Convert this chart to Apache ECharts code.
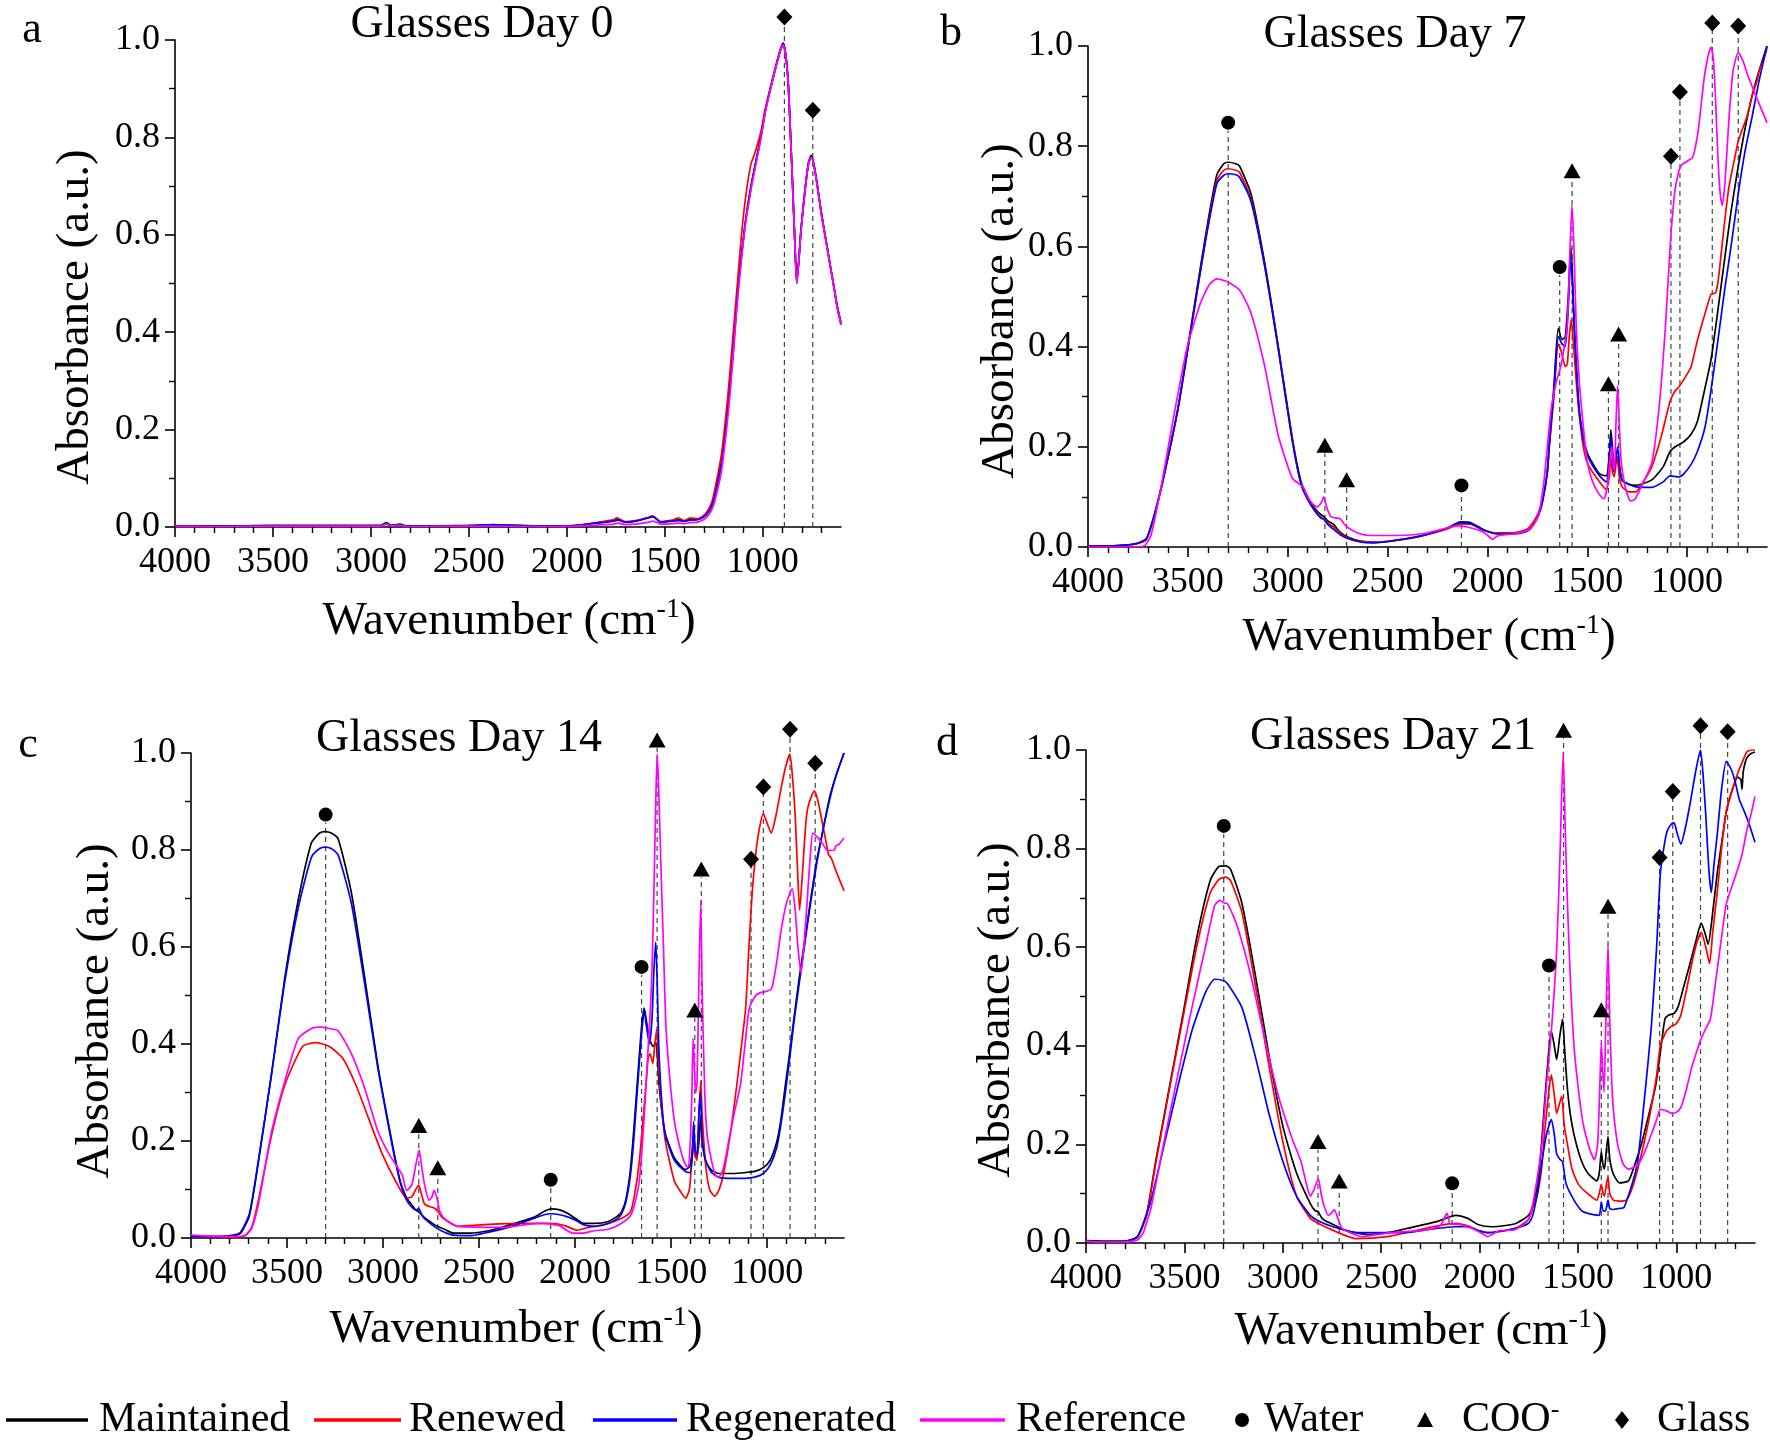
<!DOCTYPE html>
<html><head><meta charset="utf-8">
<script src="https://cdn.jsdelivr.net/npm/echarts@6/dist/echarts.min.js"></script>
<style>html,body{margin:0;padding:0;background:#fff}#chart{width:1770px;height:1449px}</style>
</head><body><div id="chart"></div>
<script>
// ---------------- DATA ----------------
const seriesNames = ['Maintained', 'Renewed', 'Regenerated', 'Reference'];
const panelTitles = ['Glasses Day 0', 'Glasses Day 7', 'Glasses Day 14', 'Glasses Day 21'];
const panelLetters = ['a', 'b', 'c', 'd'];
const xTickLabels = [4000, 3500, 3000, 2500, 2000, 1500, 1000];
const legendMarkers = ['Water', 'COO', 'Glass'];

// Panel a (Day 0)
const a_maintained = [[4000,0.002],[3800,0.002],[3500,0.003],[3200,0.003],[2950,0.003],[2922,0.009],[2895,0.003],[2852,0.006],[2820,0.002],[2500,0.003],[2380,0.004],[2100,0.002],[1960,0.003],[1850,0.008],[1760,0.013],[1740,0.016],[1700,0.01],[1650,0.012],[1580,0.02],[1560,0.022],[1520,0.01],[1460,0.013],[1430,0.015],[1400,0.012],[1370,0.016],[1330,0.016],[1290,0.026],[1260,0.045],[1240,0.075],[1210,0.134],[1190,0.2],[1173,0.263],[1150,0.37],[1129,0.478],[1108,0.56],[1086,0.634],[1060,0.7],[1042,0.737],[1010,0.8],[985,0.858],[955,0.91],[927,0.955],[908,0.982],[895,0.994],[882,0.97],[869,0.91],[857,0.8],[846,0.694],[835,0.58],[826,0.504],[815,0.55],[805,0.608],[790,0.67],[776,0.72],[765,0.75],[752,0.763],[740,0.748],[724,0.711],[700,0.645],[681,0.6],[660,0.55],[637,0.496],[620,0.455],[600,0.418]];
const a_renewed = [[4000,0.002],[3800,0.002],[3500,0.003],[3200,0.003],[2950,0.003],[2922,0.006],[2895,0.003],[2852,0.005],[2820,0.002],[2500,0.003],[2100,0.002],[1960,0.003],[1850,0.009],[1760,0.015],[1745,0.019],[1700,0.011],[1650,0.013],[1580,0.02],[1565,0.023],[1520,0.011],[1460,0.014],[1430,0.019],[1400,0.013],[1370,0.019],[1330,0.017],[1290,0.028],[1260,0.05],[1240,0.085],[1210,0.15],[1190,0.22],[1173,0.29],[1150,0.4],[1129,0.5],[1108,0.6],[1086,0.68],[1060,0.745],[1042,0.765],[1010,0.81],[985,0.862],[955,0.912],[927,0.956],[908,0.982],[895,0.99],[882,0.968],[869,0.905],[857,0.795],[846,0.69],[835,0.578],[826,0.502],[815,0.548],[805,0.605],[790,0.668],[776,0.718],[765,0.748],[752,0.76],[740,0.745],[724,0.708],[700,0.642],[681,0.598],[660,0.548],[637,0.495],[620,0.456],[600,0.42]];
const a_regenerated = [[4000,0.001],[3800,0.002],[3500,0.003],[3200,0.003],[2950,0.003],[2922,0.007],[2895,0.003],[2852,0.005],[2820,0.002],[2500,0.003],[2380,0.005],[2100,0.002],[1960,0.003],[1850,0.008],[1760,0.012],[1740,0.014],[1700,0.01],[1650,0.012],[1580,0.019],[1560,0.021],[1520,0.01],[1460,0.012],[1430,0.013],[1400,0.012],[1370,0.014],[1330,0.015],[1290,0.024],[1260,0.042],[1240,0.07],[1210,0.128],[1190,0.19],[1173,0.255],[1150,0.36],[1129,0.47],[1108,0.555],[1086,0.63],[1060,0.695],[1042,0.733],[1010,0.797],[985,0.856],[955,0.908],[927,0.953],[908,0.98],[895,0.992],[882,0.968],[869,0.908],[857,0.798],[846,0.692],[835,0.578],[826,0.5],[815,0.548],[805,0.606],[790,0.668],[776,0.718],[765,0.748],[752,0.76],[740,0.746],[724,0.709],[700,0.643],[681,0.598],[660,0.548],[637,0.494],[620,0.452],[600,0.415]];
const a_reference = [[4000,0.001],[3800,0.001],[3500,0.002],[3200,0.002],[2950,0.002],[2922,0.006],[2895,0.002],[2852,0.004],[2820,0.001],[2500,0.002],[2100,0.001],[1960,0.002],[1850,0.004],[1760,0.006],[1740,0.008],[1700,0.005],[1650,0.006],[1580,0.01],[1560,0.012],[1520,0.006],[1460,0.007],[1430,0.008],[1400,0.007],[1370,0.009],[1330,0.01],[1290,0.018],[1260,0.035],[1240,0.06],[1210,0.115],[1190,0.18],[1173,0.245],[1150,0.355],[1129,0.465],[1108,0.55],[1086,0.628],[1060,0.692],[1042,0.73],[1010,0.795],[985,0.855],[955,0.907],[927,0.952],[908,0.98],[895,0.99],[882,0.967],[869,0.907],[857,0.797],[846,0.69],[835,0.577],[826,0.5],[815,0.547],[805,0.605],[790,0.667],[776,0.717],[765,0.747],[752,0.759],[740,0.745],[724,0.708],[700,0.642],[681,0.597],[660,0.547],[637,0.494],[620,0.452],[600,0.415]];
const a_water = [];
const a_coo = [];
const a_glass = [[889,1.047],[744,0.856]];

// Panel b (Day 7)
const b_maintained = [[4000,0.002],[3850,0.003],[3760,0.006],[3708,0.015],[3663,0.07],[3617,0.146],[3548,0.28],[3480,0.45],[3412,0.62],[3355,0.743],[3320,0.765],[3298,0.768],[3260,0.765],[3241,0.76],[3184,0.705],[3115,0.567],[3047,0.4],[2978,0.22],[2933,0.13],[2900,0.1],[2864,0.077],[2835,0.065],[2819,0.061],[2800,0.052],[2770,0.045],[2739,0.03],[2700,0.02],[2636,0.012],[2545,0.009],[2420,0.015],[2317,0.023],[2200,0.038],[2135,0.05],[2080,0.048],[2021,0.035],[1952,0.027],[1861,0.027],[1800,0.033],[1770,0.046],[1745,0.065],[1724,0.092],[1700,0.15],[1690,0.207],[1667,0.32],[1645,0.437],[1626,0.414],[1610,0.42],[1595,0.5],[1583,0.598],[1575,0.55],[1565,0.437],[1542,0.28],[1520,0.22],[1496,0.184],[1439,0.146],[1405,0.142],[1390,0.18],[1382,0.234],[1374,0.2],[1367,0.16],[1355,0.17],[1348,0.18],[1340,0.16],[1325,0.134],[1290,0.125],[1257,0.123],[1177,0.134],[1120,0.16],[1086,0.19],[1060,0.2],[1017,0.21],[980,0.225],[949,0.25],[920,0.3],[880,0.375],[850,0.46],[812,0.575],[780,0.67],[744,0.76],[710,0.835],[675,0.9],[640,0.95],[600,1.0]];
const b_renewed = [[4000,0.002],[3850,0.003],[3760,0.006],[3708,0.015],[3663,0.07],[3617,0.146],[3548,0.278],[3480,0.445],[3412,0.612],[3355,0.732],[3320,0.752],[3298,0.755],[3260,0.752],[3241,0.748],[3184,0.695],[3115,0.56],[3047,0.395],[2978,0.215],[2933,0.125],[2900,0.095],[2864,0.072],[2835,0.06],[2819,0.056],[2800,0.048],[2770,0.04],[2739,0.028],[2700,0.018],[2636,0.011],[2545,0.01],[2420,0.016],[2317,0.024],[2200,0.036],[2135,0.046],[2080,0.045],[2021,0.034],[1952,0.028],[1861,0.029],[1800,0.036],[1770,0.05],[1745,0.068],[1724,0.095],[1700,0.15],[1690,0.2],[1667,0.3],[1645,0.405],[1630,0.39],[1610,0.36],[1600,0.365],[1590,0.42],[1580,0.455],[1570,0.41],[1555,0.33],[1542,0.27],[1520,0.2],[1496,0.165],[1439,0.13],[1405,0.115],[1390,0.14],[1382,0.18],[1374,0.15],[1365,0.14],[1355,0.17],[1350,0.18],[1340,0.14],[1325,0.12],[1290,0.11],[1257,0.11],[1220,0.13],[1177,0.16],[1130,0.22],[1086,0.29],[1063,0.31],[1040,0.32],[1000,0.345],[980,0.36],[950,0.41],[915,0.46],[885,0.5],[875,0.506],[860,0.506],[845,0.53],[812,0.65],[790,0.72],[760,0.78],[744,0.81],[700,0.86],[675,0.9],[650,0.93],[640,0.95],[620,0.97],[600,0.995]];
const b_regenerated = [[4000,0.002],[3850,0.003],[3760,0.007],[3708,0.017],[3663,0.072],[3617,0.148],[3548,0.28],[3480,0.445],[3412,0.61],[3355,0.725],[3320,0.742],[3298,0.745],[3260,0.743],[3241,0.738],[3184,0.69],[3115,0.56],[3047,0.395],[2978,0.215],[2933,0.125],[2900,0.095],[2864,0.072],[2835,0.058],[2819,0.055],[2800,0.045],[2770,0.035],[2739,0.025],[2700,0.017],[2636,0.01],[2580,0.008],[2545,0.009],[2420,0.016],[2317,0.024],[2200,0.038],[2135,0.048],[2080,0.046],[2021,0.034],[1952,0.026],[1861,0.026],[1800,0.032],[1770,0.044],[1745,0.062],[1724,0.09],[1700,0.15],[1690,0.205],[1667,0.31],[1645,0.42],[1626,0.405],[1610,0.4],[1595,0.48],[1583,0.58],[1575,0.53],[1565,0.44],[1542,0.28],[1520,0.215],[1496,0.18],[1439,0.142],[1405,0.13],[1390,0.17],[1382,0.22],[1374,0.18],[1367,0.15],[1355,0.18],[1348,0.2],[1335,0.15],[1325,0.132],[1290,0.125],[1257,0.12],[1177,0.119],[1120,0.13],[1086,0.142],[1040,0.14],[1017,0.146],[980,0.165],[949,0.19],[910,0.24],[880,0.314],[850,0.4],[812,0.513],[780,0.6],[744,0.705],[710,0.79],[675,0.858],[640,0.93],[600,1.0]];
const b_reference = [[4000,0.0],[3800,0.0],[3720,0.002],[3685,0.023],[3640,0.107],[3571,0.26],[3503,0.4],[3434,0.49],[3390,0.525],[3355,0.535],[3320,0.532],[3298,0.529],[3241,0.513],[3184,0.467],[3115,0.36],[3047,0.222],[2978,0.138],[2940,0.125],[2921,0.119],[2900,0.1],[2880,0.088],[2853,0.08],[2830,0.09],[2819,0.1],[2805,0.08],[2785,0.061],[2760,0.058],[2739,0.057],[2715,0.045],[2695,0.038],[2650,0.028],[2590,0.023],[2450,0.023],[2317,0.027],[2200,0.038],[2158,0.042],[2100,0.04],[2021,0.03],[1990,0.02],[1975,0.015],[1950,0.022],[1861,0.027],[1790,0.035],[1747,0.061],[1720,0.12],[1700,0.2],[1679,0.28],[1655,0.33],[1633,0.36],[1615,0.4],[1600,0.444],[1590,0.55],[1577,0.682],[1567,0.6],[1555,0.437],[1540,0.33],[1519,0.237],[1500,0.17],[1473,0.13],[1440,0.105],[1416,0.096],[1400,0.12],[1385,0.18],[1378,0.2],[1371,0.17],[1364,0.153],[1356,0.25],[1348,0.322],[1340,0.25],[1330,0.17],[1310,0.12],[1290,0.095],[1280,0.092],[1260,0.096],[1230,0.12],[1177,0.168],[1140,0.28],[1109,0.437],[1085,0.6],[1063,0.705],[1045,0.745],[1029,0.762],[1000,0.77],[972,0.778],[945,0.83],[915,0.935],[895,0.98],[880,0.998],[868,0.97],[858,0.897],[845,0.77],[833,0.7],[824,0.682],[810,0.73],[790,0.858],[770,0.95],[744,0.987],[720,0.97],[698,0.943],[652,0.897],[600,0.847]];
const b_water = [[3298,0.847],[2130,0.123],[1638,0.559]];
const b_coo = [[2814,0.203],[2705,0.134],[1576,0.751],[1394,0.326],[1343,0.425]];
const b_glass = [[1081,0.78],[1036,0.908],[874,1.046],[744,1.04]];

// Panel c (Day 14)
const c_maintained = [[4000,0.004],[3850,0.003],[3780,0.005],[3742,0.01],[3696,0.046],[3649,0.157],[3580,0.34],[3511,0.538],[3442,0.696],[3373,0.815],[3330,0.835],[3303,0.838],[3270,0.835],[3234,0.823],[3165,0.712],[3096,0.538],[3027,0.355],[2957,0.205],[2911,0.117],[2880,0.085],[2854,0.07],[2830,0.058],[2814,0.054],[2795,0.046],[2784,0.042],[2727,0.026],[2680,0.018],[2634,0.01],[2542,0.01],[2450,0.015],[2381,0.022],[2300,0.032],[2219,0.042],[2160,0.055],[2127,0.06],[2080,0.058],[2035,0.05],[1990,0.038],[1954,0.03],[1900,0.03],[1827,0.034],[1780,0.045],[1758,0.054],[1735,0.08],[1712,0.141],[1695,0.22],[1677,0.316],[1654,0.435],[1640,0.474],[1630,0.45],[1613,0.41],[1593,0.395],[1579,0.403],[1571,0.37],[1563,0.316],[1545,0.25],[1529,0.213],[1483,0.165],[1425,0.141],[1402,0.149],[1390,0.18],[1383,0.213],[1375,0.18],[1366,0.165],[1355,0.2],[1346,0.252],[1338,0.2],[1320,0.157],[1290,0.14],[1250,0.133],[1180,0.133],[1112,0.135],[1060,0.138],[1020,0.145],[985,0.16],[951,0.197],[930,0.24],[905,0.316],[880,0.39],[859,0.458],[835,0.53],[812,0.593],[780,0.68],[743,0.776],[710,0.84],[674,0.91],[640,0.955],[600,1.0]];
const c_renewed = [[4000,0.004],[3850,0.002],[3760,0.002],[3719,0.005],[3684,0.022],[3649,0.078],[3580,0.213],[3511,0.316],[3419,0.395],[3350,0.403],[3280,0.395],[3211,0.371],[3142,0.316],[3073,0.244],[3004,0.173],[2934,0.117],[2877,0.082],[2850,0.085],[2830,0.1],[2814,0.109],[2800,0.09],[2784,0.07],[2760,0.065],[2734,0.062],[2715,0.055],[2692,0.042],[2611,0.024],[2450,0.028],[2265,0.03],[2127,0.03],[2050,0.025],[1989,0.016],[1950,0.02],[1827,0.03],[1760,0.04],[1712,0.054],[1690,0.09],[1666,0.157],[1645,0.25],[1631,0.316],[1620,0.37],[1610,0.38],[1595,0.36],[1585,0.4],[1575,0.43],[1565,0.35],[1550,0.27],[1529,0.197],[1483,0.117],[1450,0.095],[1425,0.082],[1405,0.1],[1394,0.15],[1383,0.19],[1375,0.17],[1365,0.16],[1355,0.26],[1346,0.324],[1338,0.25],[1320,0.15],[1300,0.1],[1273,0.086],[1250,0.1],[1227,0.133],[1190,0.22],[1158,0.316],[1130,0.41],[1112,0.474],[1095,0.6],[1078,0.712],[1060,0.79],[1043,0.839],[1020,0.875],[1000,0.855],[979,0.835],[955,0.87],[928,0.926],[905,0.97],[882,0.998],[868,0.95],[854,0.87],[840,0.74],[831,0.676],[815,0.76],[800,0.85],[789,0.886],[770,0.91],[754,0.922],[735,0.9],[708,0.846],[690,0.81],[680,0.79],[666,0.783],[640,0.755],[600,0.716]];
const c_regenerated = [[4000,0.004],[3850,0.003],[3780,0.006],[3742,0.012],[3696,0.05],[3649,0.16],[3580,0.34],[3511,0.53],[3442,0.68],[3373,0.785],[3330,0.803],[3303,0.806],[3270,0.803],[3234,0.79],[3165,0.69],[3096,0.525],[3027,0.35],[2957,0.2],[2911,0.115],[2880,0.08],[2854,0.065],[2830,0.058],[2814,0.06],[2795,0.045],[2784,0.04],[2727,0.022],[2680,0.012],[2634,0.006],[2542,0.005],[2450,0.012],[2381,0.018],[2300,0.028],[2219,0.04],[2160,0.048],[2127,0.05],[2080,0.048],[2035,0.043],[1990,0.035],[1954,0.027],[1900,0.024],[1827,0.03],[1780,0.04],[1758,0.05],[1735,0.075],[1712,0.13],[1695,0.2],[1677,0.3],[1654,0.42],[1640,0.47],[1630,0.44],[1613,0.4],[1600,0.45],[1590,0.55],[1580,0.61],[1571,0.5],[1563,0.38],[1545,0.26],[1529,0.21],[1483,0.16],[1425,0.137],[1402,0.135],[1390,0.17],[1383,0.24],[1375,0.18],[1366,0.17],[1355,0.26],[1348,0.3],[1338,0.2],[1320,0.16],[1290,0.135],[1250,0.125],[1180,0.123],[1112,0.123],[1060,0.126],[1020,0.133],[985,0.15],[951,0.185],[930,0.23],[905,0.3],[880,0.38],[859,0.45],[835,0.52],[812,0.585],[780,0.675],[743,0.77],[710,0.84],[674,0.905],[640,0.955],[600,1.0]];
const c_reference = [[4000,0.006],[3900,0.004],[3780,0.003],[3719,0.005],[3684,0.02],[3649,0.07],[3580,0.22],[3511,0.324],[3442,0.411],[3373,0.432],[3327,0.435],[3280,0.432],[3234,0.427],[3165,0.38],[3096,0.309],[3027,0.22],[2969,0.173],[2923,0.145],[2900,0.13],[2877,0.098],[2850,0.11],[2830,0.15],[2812,0.181],[2800,0.15],[2784,0.11],[2761,0.078],[2745,0.085],[2734,0.098],[2718,0.08],[2705,0.055],[2680,0.04],[2611,0.024],[2358,0.022],[2250,0.028],[2173,0.03],[2120,0.028],[2080,0.025],[2012,0.01],[1960,0.01],[1900,0.015],[1827,0.018],[1760,0.03],[1712,0.046],[1690,0.07],[1666,0.117],[1645,0.22],[1631,0.316],[1610,0.458],[1600,0.55],[1590,0.712],[1580,0.9],[1573,0.998],[1565,0.93],[1555,0.791],[1540,0.6],[1527,0.435],[1505,0.32],[1481,0.236],[1450,0.18],[1430,0.155],[1413,0.145],[1400,0.2],[1392,0.3],[1386,0.411],[1380,0.36],[1372,0.3],[1365,0.32],[1357,0.5],[1346,0.696],[1338,0.5],[1325,0.3],[1313,0.213],[1290,0.16],[1270,0.13],[1255,0.125],[1230,0.14],[1200,0.2],[1170,0.26],[1139,0.316],[1115,0.4],[1093,0.474],[1060,0.5],[1035,0.506],[1010,0.508],[977,0.514],[950,0.57],[928,0.633],[900,0.69],[870,0.72],[855,0.68],[840,0.6],[824,0.546],[805,0.62],[789,0.712],[775,0.79],[762,0.835],[735,0.825],[708,0.811],[690,0.8],[666,0.799],[650,0.8],[643,0.808],[625,0.812],[600,0.825]];
const c_water = [[3299,0.873],[2127,0.12],[1654,0.559]];
const c_coo = [[2814,0.232],[2715,0.145],[1573,1.027],[1377,0.47],[1343,0.761]];
const c_glass = [[1084,0.781],[1020,0.93],[881,1.049],[750,0.979]];

// Panel d (Day 21)
const d_maintained = [[4000,0.005],[3900,0.004],[3800,0.004],[3739,0.013],[3693,0.056],[3646,0.165],[3577,0.314],[3508,0.462],[3438,0.618],[3369,0.735],[3323,0.764],[3290,0.765],[3265,0.758],[3207,0.688],[3138,0.54],[3068,0.376],[2999,0.236],[2930,0.142],[2860,0.08],[2835,0.065],[2821,0.064],[2800,0.05],[2768,0.042],[2676,0.025],[2560,0.017],[2450,0.022],[2375,0.029],[2213,0.044],[2121,0.056],[2060,0.05],[2005,0.037],[1936,0.033],[1820,0.039],[1751,0.056],[1730,0.075],[1705,0.119],[1685,0.2],[1670,0.282],[1650,0.38],[1635,0.43],[1620,0.4],[1608,0.372],[1592,0.42],[1578,0.454],[1567,0.39],[1555,0.321],[1540,0.265],[1520,0.22],[1485,0.17],[1450,0.142],[1404,0.126],[1392,0.14],[1381,0.185],[1373,0.16],[1365,0.15],[1355,0.19],[1347,0.216],[1338,0.17],[1320,0.14],[1289,0.122],[1243,0.126],[1210,0.16],[1175,0.204],[1140,0.26],[1104,0.321],[1080,0.39],[1058,0.454],[1040,0.462],[1011,0.466],[990,0.48],[965,0.516],[935,0.56],[907,0.602],[873,0.649],[855,0.63],[838,0.606],[815,0.67],[792,0.75],[770,0.81],[746,0.875],[715,0.92],[688,0.945],[672,0.94],[666,0.92],[660,0.955],[642,0.984],[620,0.993],[600,0.996]];
const d_renewed = [[4000,0.003],[3900,0.002],[3800,0.003],[3739,0.012],[3693,0.055],[3646,0.16],[3577,0.31],[3508,0.455],[3438,0.6],[3369,0.71],[3323,0.738],[3290,0.742],[3265,0.735],[3207,0.67],[3138,0.52],[3068,0.355],[2999,0.204],[2930,0.095],[2860,0.05],[2821,0.04],[2768,0.03],[2700,0.018],[2629,0.009],[2550,0.01],[2450,0.014],[2375,0.021],[2213,0.035],[2121,0.04],[2060,0.035],[2005,0.025],[1960,0.021],[1820,0.029],[1751,0.048],[1730,0.07],[1705,0.1],[1685,0.15],[1670,0.22],[1650,0.3],[1635,0.341],[1620,0.3],[1608,0.263],[1592,0.285],[1582,0.298],[1570,0.24],[1555,0.204],[1530,0.15],[1497,0.119],[1450,0.1],[1404,0.087],[1392,0.1],[1381,0.119],[1372,0.1],[1365,0.095],[1355,0.12],[1347,0.134],[1338,0.1],[1320,0.087],[1290,0.085],[1254,0.087],[1225,0.11],[1196,0.15],[1160,0.21],[1127,0.275],[1100,0.34],[1081,0.4],[1050,0.43],[1023,0.44],[1000,0.445],[977,0.462],[950,0.51],[919,0.571],[895,0.61],[873,0.63],[850,0.6],[831,0.567],[815,0.63],[792,0.711],[770,0.8],[746,0.875],[715,0.92],[688,0.953],[660,0.98],[642,0.996],[620,1.0],[600,1.0]];
const d_regenerated = [[4000,0.003],[3900,0.002],[3800,0.003],[3739,0.012],[3700,0.05],[3669,0.087],[3600,0.204],[3531,0.321],[3462,0.43],[3392,0.509],[3346,0.535],[3300,0.532],[3277,0.524],[3207,0.477],[3138,0.376],[3068,0.259],[2999,0.165],[2930,0.095],[2860,0.056],[2821,0.045],[2745,0.033],[2629,0.021],[2450,0.021],[2375,0.021],[2250,0.028],[2121,0.033],[2060,0.033],[2005,0.025],[1960,0.021],[1820,0.03],[1751,0.04],[1730,0.055],[1705,0.103],[1685,0.16],[1660,0.22],[1635,0.251],[1620,0.22],[1608,0.181],[1592,0.17],[1578,0.165],[1560,0.12],[1520,0.087],[1480,0.065],[1450,0.06],[1393,0.056],[1385,0.07],[1381,0.083],[1372,0.065],[1360,0.065],[1347,0.087],[1338,0.07],[1320,0.068],[1290,0.07],[1266,0.072],[1240,0.1],[1210,0.14],[1196,0.165],[1160,0.3],[1127,0.438],[1100,0.6],[1081,0.75],[1060,0.81],[1046,0.836],[1025,0.85],[1011,0.852],[995,0.83],[977,0.809],[955,0.84],[930,0.891],[900,0.96],[877,1.0],[864,0.95],[850,0.867],[835,0.76],[822,0.711],[808,0.77],[792,0.828],[770,0.92],[746,0.977],[720,0.96],[700,0.934],[680,0.9],[654,0.875],[630,0.85],[600,0.813]];
const d_reference = [[4000,0.004],[3900,0.002],[3800,0.002],[3739,0.006],[3710,0.02],[3693,0.04],[3669,0.072],[3600,0.212],[3531,0.345],[3462,0.477],[3392,0.602],[3346,0.685],[3320,0.695],[3300,0.69],[3280,0.688],[3230,0.641],[3161,0.54],[3092,0.415],[3022,0.298],[2953,0.212],[2907,0.165],[2880,0.12],[2860,0.095],[2840,0.11],[2819,0.13],[2805,0.1],[2790,0.075],[2768,0.056],[2750,0.062],[2738,0.068],[2720,0.05],[2700,0.03],[2680,0.025],[2600,0.013],[2450,0.021],[2300,0.025],[2200,0.035],[2165,0.06],[2150,0.04],[2100,0.037],[2040,0.03],[1990,0.02],[1959,0.013],[1900,0.025],[1820,0.027],[1751,0.048],[1720,0.1],[1682,0.204],[1660,0.32],[1635,0.43],[1608,0.594],[1590,0.8],[1575,0.996],[1565,0.85],[1555,0.711],[1540,0.55],[1520,0.4],[1500,0.32],[1474,0.243],[1440,0.19],[1416,0.169],[1400,0.2],[1390,0.3],[1381,0.407],[1374,0.35],[1367,0.306],[1358,0.45],[1347,0.606],[1338,0.45],[1325,0.3],[1300,0.204],[1270,0.16],[1243,0.15],[1196,0.158],[1160,0.185],[1127,0.22],[1100,0.25],[1081,0.271],[1050,0.268],[1023,0.263],[1000,0.265],[977,0.275],[950,0.31],[919,0.36],[895,0.39],[873,0.415],[850,0.435],[827,0.454],[810,0.5],[792,0.555],[770,0.62],[746,0.688],[720,0.72],[688,0.758],[665,0.79],[642,0.836],[620,0.87],[600,0.906]];
const d_water = [[3300,0.846],[2139,0.121],[1647,0.563]];
const d_coo = [[2821,0.206],[2713,0.126],[1573,1.04],[1381,0.473],[1347,0.683]];
const d_glass = [[1085,0.782],[1018,0.916],[877,1.049],[739,1.037]];

// ---------------- LAYOUT / STYLE ----------------
const FONT = 'Liberation Serif';
const colors = ['#000000', '#ff0000', '#0000ff', '#ff00ff'];
const panels = [
  { curves: [a_maintained, a_renewed, a_regenerated, a_reference], water: a_water, coo: a_coo, glass: a_glass },
  { curves: [b_maintained, b_renewed, b_regenerated, b_reference], water: b_water, coo: b_coo, glass: b_glass },
  { curves: [c_maintained, c_renewed, c_regenerated, c_reference], water: c_water, coo: c_coo, glass: c_glass },
  { curves: [d_maintained, d_renewed, d_regenerated, d_reference], water: d_water, coo: d_coo, glass: d_glass }
];
const layout = [
  { grid: { left: 175, top: 40, width: 666, height: 487 }, letter: [32, 30], title: [482, 25], yName: [76, 317], xName: [509, 622] },
  { grid: { left: 1088, top: 46, width: 679, height: 501 }, letter: [951, 33], title: [1395, 35], yName: [1001, 311], xName: [1429, 638] },
  { grid: { left: 191, top: 753, width: 653, height: 485 }, letter: [28, 745], title: [459, 739], yName: [96, 1011], xName: [516, 1330] },
  { grid: { left: 1086, top: 750, width: 669, height: 493 }, letter: [947, 743], title: [1393, 737], yName: [997, 1010], xName: [1421, 1332] }
];

const axisLineStyle = { color: '#000', width: 1.6 };
const grids = [], xAxes = [], yAxes = [], series = [], graphics = [];

panels.forEach((p, i) => {
  const L = layout[i];
  grids.push(Object.assign({ containLabel: false }, L.grid));
  xAxes.push({
    type: 'value', gridIndex: i, min: 600, max: 4000, inverse: true, position: 'bottom',
    axisLine: { show: true, onZero: false, lineStyle: axisLineStyle },
    axisTick: { show: true, length: 10, lineStyle: axisLineStyle, customValues: xTickLabels },
    minorTick: { show: true, splitNumber: 5, length: 6, lineStyle: { color: '#000', width: 1.4 } },
    axisLabel: { show: true, customValues: xTickLabels, fontSize: 36, fontFamily: FONT, color: '#000', margin: 18, formatter: v => String(v) },
    splitLine: { show: false }, minorSplitLine: { show: false }
  });
  yAxes.push({
    type: 'value', gridIndex: i, min: 0, max: 1, interval: 0.2,
    axisLine: { show: true, lineStyle: axisLineStyle },
    axisTick: { show: true, length: 10, lineStyle: axisLineStyle },
    minorTick: { show: true, splitNumber: 2, length: 6, lineStyle: { color: '#000', width: 1.4 } },
    axisLabel: { fontSize: 36, fontFamily: FONT, color: '#000', margin: 15, formatter: v => v.toFixed(1) },
    splitLine: { show: false }
  });
  const allMarks = p.water.concat(p.coo, p.glass);
  series.push({
    type: 'custom', xAxisIndex: i, yAxisIndex: i, clip: false, silent: true, z: 1,
    data: allMarks, encode: { x: 0, y: 1 },
    renderItem: (params, api) => {
      const w = api.value(0), v = api.value(1);
      const p0 = api.coord([w, 0]);
      const p1 = api.coord([w, v]);
      return { type: 'line', shape: { x1: p0[0], y1: p0[1], x2: p1[0], y2: p1[1] + 8 },
        style: { stroke: '#444', lineWidth: 1.2, lineDash: [5, 4] } };
    }
  });
  p.curves.forEach((c, k) => {
    series.push({
      type: 'line', name: seriesNames[k], xAxisIndex: i, yAxisIndex: i, data: c,
      showSymbol: false, smooth: 0.2, z: 3 + k,
      lineStyle: { color: colors[k], width: 1.7 }, itemStyle: { color: colors[k] }
    });
  });
  const markerDefs = [
    { data: p.water, symbol: 'circle', size: 14 },
    { data: p.coo, symbol: 'triangle', size: [17, 15] },
    { data: p.glass, symbol: 'diamond', size: [16, 17] }
  ];
  markerDefs.forEach((m, k) => {
    if (!m.data.length) return;
    series.push({
      type: 'scatter', name: legendMarkers[k], xAxisIndex: i, yAxisIndex: i, data: m.data,
      symbol: m.symbol, symbolSize: m.size, clip: false, z: 10,
      itemStyle: { color: '#000', opacity: 1 }
    });
  });
  graphics.push({ type: 'text', x: L.letter[0], y: L.letter[1], style: { text: panelLetters[i], fontSize: 44, fontFamily: FONT, fill: '#000', align: 'center', verticalAlign: 'middle' } });
  graphics.push({ type: 'text', x: L.title[0], y: L.title[1], style: { text: panelTitles[i], fontSize: 46, fontFamily: FONT, fill: '#000', align: 'center', verticalAlign: 'middle' } });
  graphics.push({ type: 'text', x: L.yName[0], y: L.yName[1], rotation: Math.PI / 2, style: { text: 'Absorbance (a.u.)', fontSize: 47, fontFamily: FONT, fill: '#000', align: 'center', verticalAlign: 'middle' } });
  graphics.push({ type: 'text', x: L.xName[0], y: L.xName[1], style: {
    text: '{n|Wavenumber (cm}{s|-1}{n|)}', align: 'center', verticalAlign: 'middle', fill: '#000',
    rich: { n: { fontSize: 47, fontFamily: FONT, lineHeight: 52, fill: '#000' }, s: { fontSize: 28, fontFamily: FONT, lineHeight: 30, verticalAlign: 'top', fill: '#000' } }
  } });
});

// ---------------- LEGEND (bottom) ----------------
const LY = 1420;
const legendLines = [[6, 88, 99], [314, 401, 409], [593, 677, 686], [920, 1005, 1016]];
legendLines.forEach((l, k) => {
  graphics.push({ type: 'line', shape: { x1: l[0], y1: LY, x2: l[1], y2: LY }, style: { stroke: colors[k], lineWidth: 3.5 } });
  graphics.push({ type: 'text', x: l[2], y: LY, style: { text: seriesNames[k], fontSize: 42, fontFamily: FONT, fill: '#000', align: 'left', verticalAlign: 'middle' } });
});
graphics.push({ type: 'circle', shape: { cx: 1242, cy: LY, r: 7 }, style: { fill: '#000' } });
graphics.push({ type: 'text', x: 1264, y: LY, style: { text: legendMarkers[0], fontSize: 42, fontFamily: FONT, fill: '#000', align: 'left', verticalAlign: 'middle' } });
graphics.push({ type: 'polygon', shape: { points: [[1425, LY - 8], [1433, LY + 7], [1417, LY + 7]] }, style: { fill: '#000' } });
graphics.push({ type: 'text', x: 1462, y: LY, style: {
  text: '{n|' + legendMarkers[1] + '}{s|-}', align: 'left', verticalAlign: 'middle',
  rich: { n: { fontSize: 42, fontFamily: FONT, lineHeight: 46, fill: '#000' }, s: { fontSize: 26, fontFamily: FONT, lineHeight: 26, verticalAlign: 'top', fill: '#000' } }
} });
graphics.push({ type: 'polygon', shape: { points: [[1622, LY - 9], [1629, LY], [1622, LY + 9], [1615, LY]] }, style: { fill: '#000' } });
graphics.push({ type: 'text', x: 1657, y: LY, style: { text: legendMarkers[2], fontSize: 42, fontFamily: FONT, fill: '#000', align: 'left', verticalAlign: 'middle' } });

const chart = echarts.init(document.getElementById('chart'), null, { renderer: 'canvas' });
chart.setOption({
  animation: false,
  backgroundColor: '#ffffff',
  textStyle: { fontFamily: FONT },
  grid: grids, xAxis: xAxes, yAxis: yAxes, series: series, graphic: graphics
});
</script></body></html>
